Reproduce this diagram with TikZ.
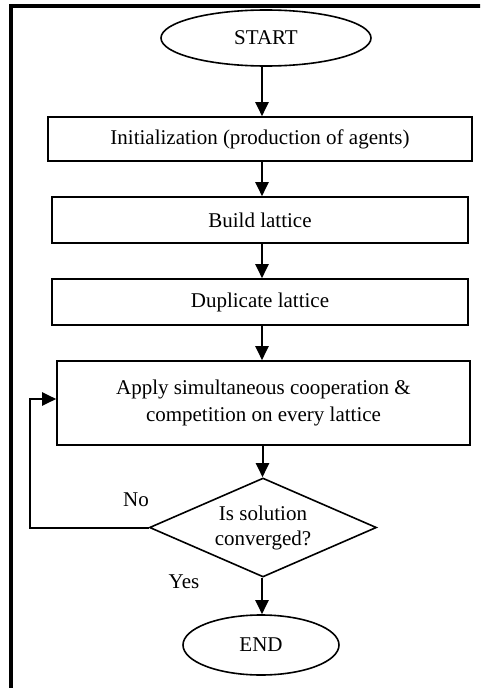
\documentclass[tikz,border=0pt]{standalone}
\usepackage{fontspec}
\setmainfont{Liberation Serif}
\usetikzlibrary{arrows.meta,shapes.geometric}
\begin{document}
\begin{tikzpicture}[x=1pt,y=-1pt,
  every node/.style={font=\fontsize{21}{27}\selectfont},
  proc/.style={draw,line width=1.6pt,rectangle,inner sep=0pt,align=center},
  term/.style={draw,line width=1.6pt,ellipse,inner sep=0pt},
  decide/.style={draw,line width=1.6pt,diamond,inner sep=0pt,aspect=2.27,align=center,font=\fontsize{21}{25}\selectfont},
  arr/.style={line width=2pt,-{Triangle[length=14pt,width=13pt]}},
  frame/.style={line width=4pt}]
\useasboundingbox (0,0) rectangle (480,688);
\begin{scope}
\clip (0,0) rectangle (480,688);
\draw[frame] (11,6.3) rectangle (500,720);
\end{scope}
\node[term,minimum width=210pt,minimum height=56pt] (start) at (266,38) {START};
\node[proc,minimum width=424pt,minimum height=44pt] (init) at (260,139) {Initialization (production of agents)};
\node[proc,minimum width=416pt,minimum height=46pt] (build) at (260,220) {Build lattice};
\node[proc,minimum width=416pt,minimum height=46pt] (dup) at (260,302) {Duplicate lattice};
\node[proc,minimum width=413pt,minimum height=84pt] (apply) at (263.5,403) {Apply simultaneous cooperation \&\\competition on every lattice};
\node[decide,minimum width=227pt,minimum height=99pt] (dec) at (263,527.5) {Is solution\\converged?};
\node[term,minimum width=156pt,minimum height=60pt] (end) at (261,645) {END};
\node (no) at (136,500) {No};
\node (yes) at (184,582) {Yes};
\draw[arr] ([xshift=-4pt]start.south) -- ([xshift=-4pt]start.south |- init.north);
\draw[arr] ([xshift=2pt]init.south) -- ([xshift=2pt]init.south |- build.north);
\draw[arr] ([xshift=2pt]build.south) -- ([xshift=2pt]build.south |- dup.north);
\draw[arr] ([xshift=2pt]dup.south) -- ([xshift=2pt]dup.south |- apply.north);
\draw[arr] ([xshift=-1pt]apply.south) -- ([xshift=-1pt]apply.south |- dec.north);
\draw[arr] ([xshift=-1pt]dec.south) -- ([xshift=-1pt]dec.south |- end.north);
\draw[arr] (dec.west) -- ++(-119,0) |- ([yshift=4pt]apply.west);
\end{tikzpicture}
\end{document}
